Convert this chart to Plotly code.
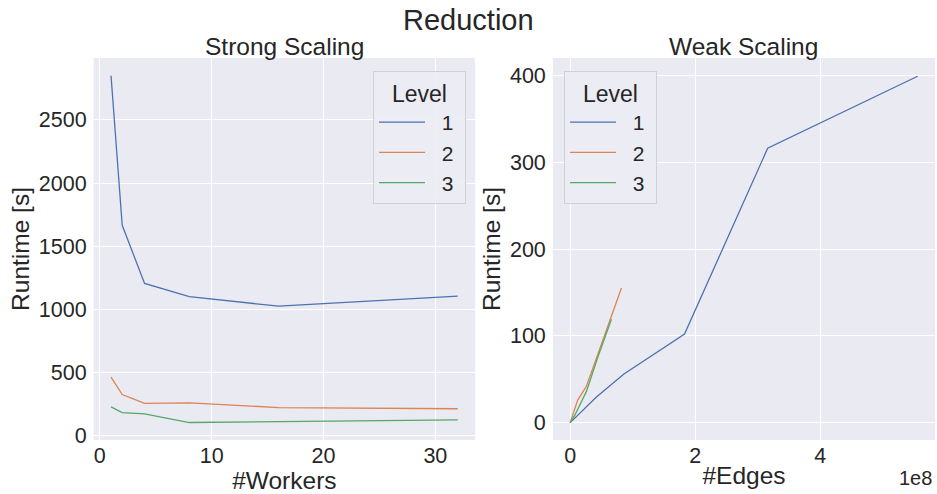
import plotly.graph_objects as go

# ---- data ----
levels = ["1", "2", "3"]
workers = [1, 2, 4, 8, 16, 32]
strong_l1 = [2850, 1665, 1205, 1100, 1025, 1105]
strong_l2 = [463, 325, 255, 260, 222, 213]
strong_l3 = [228, 183, 172, 104, 111, 125]

weak_edges_l1 = [0, 7e6, 19e6, 42e6, 86e6, 183e6, 316e6, 556e6]
weak_rt_l1 = [0, 5, 12.5, 29.5, 56, 102, 316, 399]
weak_edges_l2 = [0, 5e6, 12e6, 26e6, 55e6, 82e6]
weak_rt_l2 = [0, 12, 26, 42, 100, 155]
weak_edges_l3 = [0, 7e6, 26e6, 45e6, 66e6]
weak_rt_l3 = [0, 8, 36, 77, 119]

colors = ["#4C72B0", "#DD8452", "#55A868"]
BG = "#EAEAF2"
TXT = "#262626"
FONT = "Liberation Sans, Arial, sans-serif"
NB = "\u00a0"

fig = go.Figure()
for lvl, y, c in zip(levels, [strong_l1, strong_l2, strong_l3], colors):
    fig.add_trace(go.Scatter(x=workers, y=y, mode="lines", name=NB * 2 + lvl + NB,
                             line=dict(color=c, width=1.3),
                             xaxis="x", yaxis="y", legend="legend"))
for lvl, x, y, c in zip(levels, [weak_edges_l1, weak_edges_l2, weak_edges_l3],
                        [weak_rt_l1, weak_rt_l2, weak_rt_l3], colors):
    fig.add_trace(go.Scatter(x=x, y=y, mode="lines", name=NB * 2 + lvl + NB,
                             line=dict(color=c, width=1.3),
                             xaxis="x2", yaxis="y2", legend="legend2"))

axis_common = dict(showgrid=True, gridcolor="white", gridwidth=1, zeroline=False,
                   showline=False, ticks="", automargin=False,
                   tickfont=dict(size=21.5, color=TXT, family=FONT),
                   title_font=dict(size=24.5, color=TXT, family=FONT))

XD1 = [0.100, 0.507]
XD2 = [0.590, 0.998]
YD = [0.1093, 0.8826]

legend_common = dict(yanchor="top", y=1 - 71 / 494,
                     bgcolor="rgba(236,236,244,0.9)", bordercolor="#d0d0d8", borderwidth=1,
                     font=dict(size=21, color=TXT, family=FONT),
                     title=dict(text="Level", side="top center", font=dict(size=23, color=TXT, family=FONT)),
                     itemwidth=46, tracegroupgap=0)

fig.update_layout(
    width=937, height=494,
    margin=dict(l=0, r=0, t=0, b=0),
    paper_bgcolor="white", plot_bgcolor=BG,
    font=dict(family=FONT, color=TXT),
    xaxis=dict(domain=XD1, range=[-0.55, 33.55], tickvals=[0, 10, 20, 30],
               title=dict(text="#Workers", standoff=0), ticklabelstandoff=0, anchor="y", **axis_common),
    yaxis=dict(domain=YD, range=[-34.5, 2990],
               tickvals=[0, 500, 1000, 1500, 2000, 2500],
               title=dict(text="Runtime [s]", standoff=2), ticklabelstandoff=6, anchor="x", **axis_common),
    xaxis2=dict(domain=XD2, range=[-0.278e8, 5.84e8], tickvals=[0, 2e8, 4e8],
                ticktext=["0", "2", "4"], title=dict(text="#Edges", standoff=0),
                ticklabelstandoff=0, anchor="y2", **axis_common),
    yaxis2=dict(domain=YD, range=[-20, 420], tickvals=[0, 100, 200, 300, 400],
                title=dict(text="Runtime [s]", standoff=2), ticklabelstandoff=6, anchor="x2", **axis_common),
    legend=dict(x=466 / 937, xanchor="right", **legend_common),
    legend2=dict(x=564 / 937, xanchor="left", **legend_common),
    showlegend=True,
)

fig.add_annotation(text="Reduction", x=0.5, y=1 - 20 / 494, xref="paper", yref="paper",
                   showarrow=False, xanchor="center", yanchor="middle",
                   font=dict(size=29, color=TXT, family=FONT))
fig.add_annotation(text="Strong Scaling", x=(XD1[0] + XD1[1]) / 2, y=1 - 47 / 494, xref="paper", yref="paper",
                   showarrow=False, xanchor="center", yanchor="middle",
                   font=dict(size=24.5, color=TXT, family=FONT))
fig.add_annotation(text="Weak Scaling", x=(XD2[0] + XD2[1]) / 2, y=1 - 47 / 494, xref="paper", yref="paper",
                   showarrow=False, xanchor="center", yanchor="middle",
                   font=dict(size=24.5, color=TXT, family=FONT))
fig.add_annotation(text="1e8", x=934 / 937, y=1 - 478 / 494, xref="paper", yref="paper",
                   showarrow=False, xanchor="right", yanchor="middle", font=dict(size=20, color=TXT, family=FONT))

fig.write_html("out.html", config={"displayModeBar": False},
               post_script="document.body.style.margin='0';document.body.style.padding='0';"
                           "document.body.style.overflow='hidden';")
